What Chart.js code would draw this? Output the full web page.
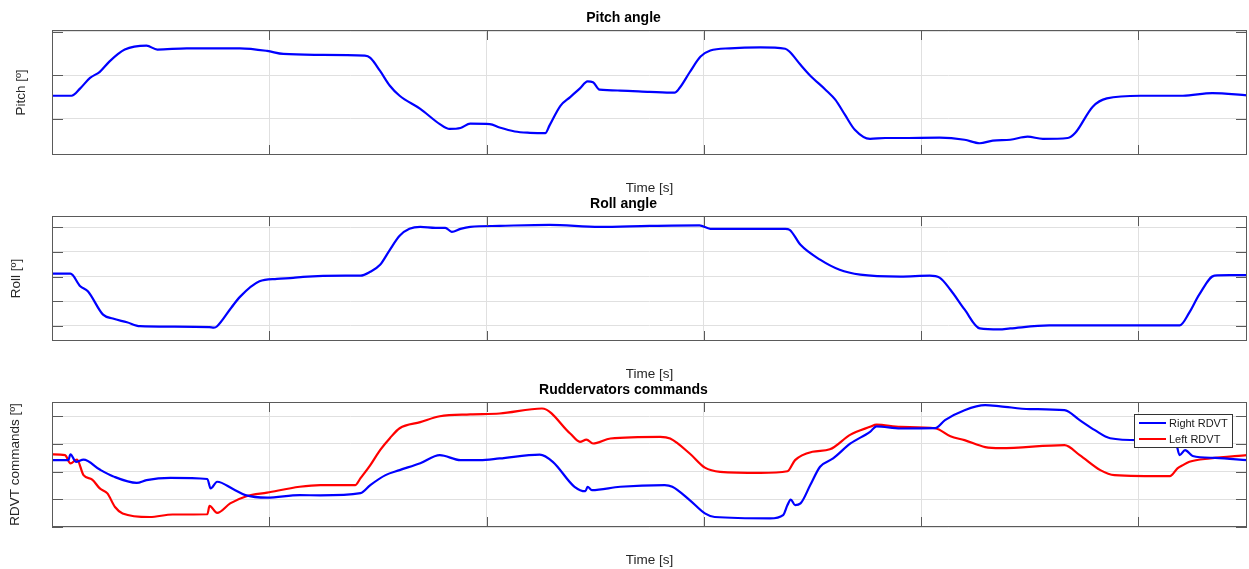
<!DOCTYPE html>
<html>
<head>
<meta charset="utf-8">
<script src="https://cdn.jsdelivr.net/npm/chart.js@4.4.1/dist/chart.umd.min.js"></script>
<style>
  body { margin: 0; background: #fff; width: 1249px; height: 569px; overflow: hidden; position: relative; }
  canvas { position: absolute; left: 0; }
</style>
</head>
<body>
<canvas id="pitch" width="1249" height="200" style="top:0px"></canvas>
<canvas id="roll" width="1249" height="200" style="top:186px"></canvas>
<canvas id="rdvt" width="1249" height="200" style="top:372px"></canvas>
<script>
// time axis (s)
const xTicks = [0, 20, 40, 60, 80, 100];

// pitch angle
const pitchTime = [0,1.8,2.6,3.5,4.4,5.3,6.7,8.7,9.7,12.4,17.3,19.8,21.3,24.4,28.8,29.3,30.2,31.1,32.0,33.9,35.7,36.6,37.6,38.5,40.3,41.2,42.6,44.0,45.4,45.8,46.8,47.7,48.6,49.3,49.8,50.4,52.3,55.0,57.3,57.8,58.7,59.7,60.6,62.4,65.2,67.5,67.9,68.9,69.8,71.2,72.1,73.0,73.9,75.3,76.7,78.1,81.7,84.0,85.4,86.6,88.2,89.8,91.2,93.5,94.2,95.8,97.1,100.2,104.1,106.8,110];
const pitchDeg = [5.3,5.3,7.0,9.4,10.8,13.2,15.9,16.8,15.9,16.2,16.2,15.6,14.9,14.7,14.5,14.0,11.0,7.6,5.3,2.3,-1.2,-2.3,-2.1,-1.1,-1.2,-2.0,-2.9,-3.2,-3.3,-1.5,3.0,5.0,7.0,8.6,8.4,6.7,6.5,6.2,6.0,7.2,10.7,14.3,15.7,16.2,16.4,16.1,15.4,12.4,9.9,6.7,4.4,0.9,-2.5,-4.6,-4.4,-4.4,-4.3,-4.8,-5.6,-5.0,-4.8,-4.1,-4.6,-4.4,-3.2,2.8,4.7,5.3,5.3,5.9,5.4];
const pitchTicks = [0, 10, 20];

// roll angle
const rollTime = [0,1.7,2.6,3.3,4.7,5.6,6.9,8.1,10.9,14.5,14.9,15.2,16.5,17.3,19.1,20.7,22.2,23.1,27.0,28.4,29.3,30.2,31.1,32.0,32.9,33.9,35.3,36.2,36.8,37.6,38.5,41.2,45.8,50.4,55.0,59.6,60.6,63.3,67.5,67.9,68.9,70.7,72.5,74.4,78.1,80.8,81.7,82.7,84.0,85.4,87.2,88.2,91.8,96.4,103.8,104.7,105.6,107.0,108.4,110];
const rollDeg = [1.2,1.2,-3.9,-5.9,-15.4,-17.0,-18.5,-20.1,-20.3,-20.5,-20.7,-20.1,-12.6,-8.2,-1.9,-0.9,-0.5,-0.1,0.4,0.4,2.0,4.8,10.9,16.6,19.4,20.2,19.8,19.8,18.2,19.4,20.2,20.6,21.0,20.2,20.6,20.8,19.4,19.4,19.4,19.0,12.9,6.9,2.8,0.8,0.0,0.4,-0.4,-5.3,-13.3,-21.0,-21.4,-21.0,-19.8,-19.8,-19.8,-14.5,-7.3,0.4,0.6,0.6];
const rollTicks = [-20, -10, 0, 10, 20];

// ruddervator commands
const rightTime = [0,1.5,1.7,2.2,2.9,4.4,5.6,7.8,8.7,10.9,14.3,14.6,15.2,16.7,17.8,19.8,22.8,24.7,28.4,29.3,30.7,32.0,33.9,35.7,37.6,39.4,41.2,44.9,46.1,48.1,49.1,49.3,49.7,52.3,56.4,57.1,58.7,60.1,61.0,66.1,67.3,67.7,68.0,68.4,68.9,69.8,70.7,71.9,73.5,75.3,75.9,78.1,81.3,82.2,84.0,85.9,87.3,90.0,93.2,94.6,96.0,97.4,100.1,103.4,103.8,104.3,105.0,107.1,110];
const rightDeg = [4.1,4.1,6.2,3.5,4.3,0.7,-1.7,-4.1,-3.1,-2.3,-2.7,-6.1,-3.7,-6.4,-8.5,-9.4,-8.5,-8.6,-7.8,-4.9,-1.3,0.5,3.0,5.9,4.1,4.1,4.7,6.1,3.5,-5.5,-7.1,-5.5,-6.7,-5.5,-4.9,-5.5,-10.3,-15.1,-16.4,-16.9,-15.7,-12.1,-10.1,-12.1,-11.5,-4.9,1.7,4.7,10.1,14.3,16.3,15.5,15.6,18.5,22.1,23.9,23.5,22.5,22.1,18.5,14.9,12.0,11.3,10.9,5.9,7.7,5.6,4.9,4.1];
const leftTime = [0,1.2,1.7,2.3,2.9,3.7,4.4,5.1,5.8,6.5,9.0,11.1,14.3,14.5,15.2,16.4,17.9,19.8,22.8,24.7,27.9,28.4,29.3,30.2,31.1,32.0,33.9,35.7,38.5,41.2,45.1,47.7,48.6,49.2,49.8,51.4,56.0,56.9,58.7,60.1,61.5,65.2,67.7,68.4,70.0,71.6,73.5,75.3,75.9,78.1,81.3,82.7,84.0,85.9,87.3,93.2,94.6,96.5,97.8,102.9,103.6,104.1,104.7,106.6,110];
const leftDeg = [6.2,5.9,2.9,4.3,-1.3,-2.9,-6.1,-7.9,-12.8,-15.1,-16.4,-15.5,-15.4,-12.4,-14.9,-11.5,-8.9,-7.6,-5.5,-4.9,-4.9,-2.4,2.3,7.7,12.0,15.6,17.8,19.9,20.6,20.9,22.7,13.7,10.7,11.5,10.1,11.9,12.5,11.9,6.5,1.4,-0.1,-0.5,0.1,4.1,7.1,8.0,13.3,16.1,16.9,16.1,15.6,12.7,11.3,8.8,8.4,9.5,5.9,0.5,-1.3,-1.7,1.1,2.3,3.5,4.7,5.9];
const rdvtTicks = [-20, -10, 0, 10, 20];

const FONT = "'Liberation Sans', Arial, Helvetica, sans-serif";

function pts(t, v) {
  return t.map((x, i) => ({ x: x, y: v[i] }));
}

// matlab style box with inward ticks, plus optional legend
const framePlugin = {
  id: 'frame',
  afterDraw(chart, args, opts) {
    const { ctx, chartArea: a, scales: { x, y } } = chart;
    ctx.save();
    ctx.strokeStyle = '#5a5a5a';
    ctx.lineWidth = 1;
    ctx.beginPath();
    x.ticks.forEach(t => {
      const px = Math.round(x.getPixelForValue(t.value)) + 0.5;
      ctx.moveTo(px, a.bottom); ctx.lineTo(px, a.bottom - 10);
      ctx.moveTo(px, a.top); ctx.lineTo(px, a.top + 10);
    });
    y.ticks.forEach(t => {
      const py = Math.round(y.getPixelForValue(t.value)) + 0.5;
      ctx.moveTo(a.left, py); ctx.lineTo(a.left + 11, py);
      ctx.moveTo(a.right, py); ctx.lineTo(a.right - 11, py);
    });
    ctx.stroke();
    ctx.strokeRect(a.left + 0.5, a.top + 0.5, a.right - a.left - 1, a.bottom - a.top - 1);

    if (opts.legend) {
      const lx = a.right - 113, ly = a.top + 12;
      ctx.fillStyle = '#fff';
      ctx.fillRect(lx, ly, 99, 34);
      ctx.strokeStyle = '#333';
      ctx.strokeRect(lx + 0.5, ly + 0.5, 98, 33);
      ctx.font = '11px ' + FONT;
      ctx.textBaseline = 'middle';
      chart.data.datasets.forEach((ds, i) => {
        const yy = ly + 9 + i * 16;
        ctx.strokeStyle = ds.borderColor;
        ctx.lineWidth = 2;
        ctx.beginPath();
        ctx.moveTo(lx + 5, yy); ctx.lineTo(lx + 32, yy);
        ctx.stroke();
        ctx.fillStyle = '#1a1a1a';
        ctx.fillText(ds.label, lx + 35, yy + 0.5);
      });
    }
    ctx.restore();
  }
};

function makeChart(id, title, yLabel, yMin, yMax, yTicks, datasets, yPad, legend) {
  return new Chart(document.getElementById(id).getContext('2d'), {
    type: 'line',
    data: { datasets: datasets },
    options: {
      responsive: false,
      animation: false,
      layout: { padding: { left: 0, right: 2, top: 0, bottom: 0 } },
      elements: {
        point: { radius: 0 },
        line: { borderWidth: 2.2, cubicInterpolationMode: 'monotone' }
      },
      plugins: {
        legend: { display: false },
        tooltip: { enabled: false },
        title: {
          display: true, text: title, color: '#000',
          font: { family: FONT, size: 14, weight: 'bold' },
          padding: { top: 10, bottom: 3.2 }
        },
        frame: { legend: legend }
      },
      scales: {
        x: {
          type: 'linear', min: 0, max: 110,
          afterBuildTicks: s => { s.ticks = xTicks.map(v => ({ value: v })); },
          afterFit: s => { s.height = 45; },
          ticks: { display: false },
          grid: { color: '#e0e0e0', drawTicks: false },
          border: { display: false },
          title: {
            display: true, text: 'Time [s]', color: '#262626',
            font: { family: FONT, size: 13.5 },
            padding: { top: 0, bottom: 4 }
          }
        },
        y: {
          min: yMin, max: yMax,
          afterBuildTicks: s => { s.ticks = yTicks.map(v => ({ value: v })); },
          afterFit: s => { s.width = 52; },
          ticks: { display: false },
          grid: { color: '#e0e0e0', drawTicks: false },
          border: { display: false },
          title: {
            display: true, text: yLabel, color: '#262626',
            font: { family: FONT, size: 13.5 },
            padding: { top: yPad, bottom: 0 }
          }
        }
      }
    },
    plugins: [framePlugin]
  });
}

makeChart('pitch', 'Pitch angle', 'Pitch [º]', -8.3, 20.4, pitchTicks, [
  { label: 'Pitch', data: pts(pitchTime, pitchDeg), borderColor: '#0000ff' }
], 13, false);

makeChart('roll', 'Roll angle', 'Roll [º]', -26.1, 24.6, rollTicks, [
  { label: 'Roll', data: pts(rollTime, rollDeg), borderColor: '#0000ff' }
], 8.6, false);

makeChart('rdvt', 'Ruddervators commands', 'RDVT commands [º]', -20, 25.05, rdvtTicks, [
  { label: 'Right RDVT', data: pts(rightTime, rightDeg), borderColor: '#0000ff' },
  { label: 'Left RDVT', data: pts(leftTime, leftDeg), borderColor: '#ff0000' }
], 7.6, true);
</script>
</body>
</html>
